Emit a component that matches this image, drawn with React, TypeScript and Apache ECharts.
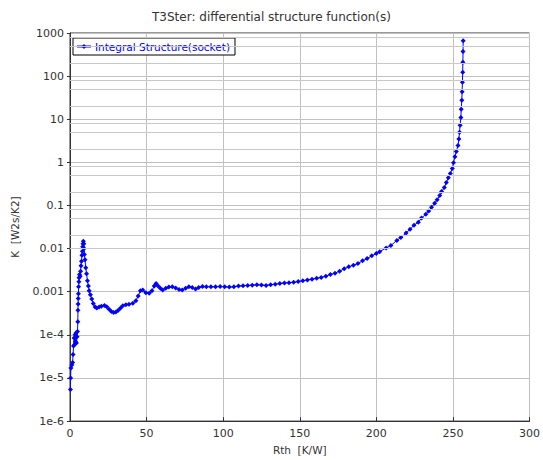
import React, { useEffect, useRef } from "react";
import * as echarts from "echarts";

const TITLE = "T3Ster: differential structure function(s)";
const SERIES_NAME = "Integral Structure(socket)";
const X_TICKS = [0, 50, 100, 150, 200, 250, 300];
const Y_LABELS: Record<string, string> = {
  "1000": "1000", "100": "100", "10": "10", "1": "1", "0.1": "0.1",
  "0.01": "0.01", "0.001": "0.001", "0.0001": "1e-4", "0.00001": "1e-5", "0.000001": "1e-6",
};
// minor horizontal grid lines (2, 5, 8 multiples of every decade)
const MINOR_GRID = [
  2e-6, 5e-6, 8e-6, 2e-5, 5e-5, 8e-5, 2e-4, 5e-4, 8e-4, 2e-3, 5e-3, 8e-3,
  2e-2, 5e-2, 8e-2, 0.2, 0.5, 0.8, 2, 5, 8, 20, 50, 80, 200, 500, 800,
];

const RTH = [
  0.3, 0.4, 0.6, 1.2, 1.7, 2.0, 2.3, 2.7, 3.0, 3.3, 3.6, 3.9, 4.2, 4.6, 4.9, 5.1, 5.2, 5.3, 5.4, 5.5,
  5.6, 5.8, 5.9, 6.2, 6.6, 6.9, 7.2, 7.5, 7.8, 8.1, 8.3, 8.5, 8.7, 9.0, 9.2, 9.4, 9.8, 10.3, 10.8, 11.4,
  12.0, 12.5, 13.3, 14.2, 15.2, 16.4, 17.5, 19, 20.5, 22.5, 24, 25.5, 27, 28.5, 30, 31.5, 33, 34.5, 36.5, 38.5,
  41, 43, 44.5, 46, 47.5, 49.5, 51.7, 53.5, 55, 56.2, 57.5, 59, 60.5, 62.5, 64.5, 66.8, 69, 71.2, 73.3, 75.5,
  77.6, 79.8, 82, 84, 86.5, 89, 92, 95, 98, 101, 104, 107, 110, 113, 116, 119, 122, 125, 128, 131,
  134, 137, 140, 143, 146, 149, 152, 155, 158, 161, 164, 167, 170, 173, 176, 179, 182, 185, 188, 191,
  194, 197, 200, 202.2, 206.4, 209.5, 213.4, 216, 219.4, 222, 224.6, 227.4, 229.5, 232.3, 234.2, 236, 238.1, 239.7, 241.4, 242.6,
  244.4, 245.7, 247, 248.3, 249.6, 250.4, 251.3, 252.2, 253.3, 253.9, 254.3, 254.7, 255.2, 255.4, 255.8, 256, 256.2, 256.4, 256.5, 256.6,
];
const K = [
  5.4e-6, 1.0e-5, 1.7e-5, 2.0e-5, 2.3e-5, 3.5e-5, 5.5e-5, 8.5e-5, 6e-5, 1.0e-4, 7e-5, 1.1e-4, 6.5e-5, 9e-5, 1.2e-4, 2e-4, 3.7e-4, 5.2e-4, 7e-4, 9e-4,
  1.3e-3, 1.7e-3, 2.1e-3, 2.5e-3, 2.3e-3, 3e-3, 4e-3, 5.1e-3, 7e-3, 8.7e-3, 1.1e-2, 1.3e-2, 1.48e-2, 1.3e-2, 1.0e-2, 7.3e-3, 5.5e-3, 3.6e-3, 2.6e-3, 1.8e-3,
  1.35e-3, 1.05e-3, 8.5e-4, 6.8e-4, 5.3e-4, 4.4e-4, 4.2e-4, 4.4e-4, 4.6e-4, 4.8e-4, 4.5e-4, 3.9e-4, 3.5e-4, 3.3e-4, 3.4e-4, 3.7e-4, 4.2e-4, 4.7e-4, 5e-4, 5.1e-4,
  5.4e-4, 6.2e-4, 8e-4, 1.05e-3, 1.1e-3, 9.5e-4, 9.2e-4, 1.05e-3, 1.35e-3, 1.55e-3, 1.35e-3, 1.2e-3, 1.1e-3, 1.2e-3, 1.28e-3, 1.3e-3, 1.22e-3, 1.12e-3, 1.1e-3, 1.2e-3,
  1.3e-3, 1.25e-3, 1.15e-3, 1.25e-3, 1.32e-3, 1.3e-3, 1.3e-3, 1.3e-3, 1.32e-3, 1.3e-3, 1.28e-3, 1.3e-3, 1.35e-3, 1.38e-3, 1.4e-3, 1.42e-3, 1.45e-3, 1.43e-3, 1.4e-3, 1.45e-3,
  1.5e-3, 1.55e-3, 1.6e-3, 1.62e-3, 1.65e-3, 1.72e-3, 1.8e-3, 1.88e-3, 1.95e-3, 2.05e-3, 2.15e-3, 2.3e-3, 2.5e-3, 2.7e-3, 3.0e-3, 3.4e-3, 3.8e-3, 4.1e-3, 4.5e-3, 5.2e-3,
  5.9e-3, 6.8e-3, 7.7e-3, 8.5e-3, 1.04e-2, 1.18e-2, 1.55e-2, 1.8e-2, 2.3e-2, 2.8e-2, 3.5e-2, 4.1e-2, 5.1e-2, 6.3e-2, 7.5e-2, 9.1e-2, 0.112, 0.135, 0.17, 0.21,
  0.26, 0.34, 0.44, 0.55, 0.72, 0.98, 1.35, 1.78, 2.45, 3.5, 5, 7.3, 11, 17, 27.5, 43.5, 72, 123, 209, 372,
];
const K_TOP = [665];
const RTH_TOP = [256.7];

if (typeof document !== "undefined") {
  document.body.style.margin = "0";
  document.body.style.overflow = "hidden";
}

export default function App() {
  const ref = useRef<HTMLDivElement>(null);
  useEffect(() => {
    if (!ref.current) return;
    const chart = echarts.init(ref.current, undefined, { renderer: "svg" });
    const pts: number[][] = RTH.map((x, i) => [x, K[i]]);
    RTH_TOP.forEach((x, i) => pts.push([x, K_TOP[i]]));
    const font = "DejaVu Sans";
    const textColor = "#333";
    const blue = "#0000ff";
    chart.setOption({
      animation: false,
      title: {
        text: TITLE,
        left: "center",
        top: 6,
        textStyle: { fontFamily: font, fontSize: 12, fontWeight: "normal", color: textColor },
      },
      legend: {
        data: [SERIES_NAME],
        left: 73,
        top: 38,
        orient: "vertical",
        backgroundColor: "#fff",
        borderColor: "#000",
        borderWidth: 1,
        borderRadius: 0,
        padding: [3, 5, 3, 3],
        itemWidth: 14,
        itemHeight: 6,
        itemGap: 0,
        textStyle: { fontFamily: font, fontSize: 10.5, color: blue, padding: [0, 0, 0, -1] },
      },
      grid: {
        left: 70,
        right: 9,
        top: 33,
        bottom: 35,
        show: true,
        borderColor: "#333",
        borderWidth: 1,
        backgroundColor: "transparent",
      },
      xAxis: {
        type: "value",
        min: X_TICKS[0],
        max: X_TICKS[X_TICKS.length - 1],
        interval: 50,
        name: "Rth  [K/W]",
        nameLocation: "middle",
        nameGap: 20,
        nameTextStyle: { fontFamily: font, fontSize: 10.5, color: textColor },
        axisLine: { lineStyle: { color: "#333" } },
        axisTick: { inside: true, length: 4, lineStyle: { color: "#333" } },
        axisLabel: { fontFamily: font, fontSize: 11, color: textColor, margin: 7 },
        splitLine: { show: true, lineStyle: { color: "#c0c0c0", width: 1 } },
      },
      yAxis: {
        type: "log",
        logBase: 10,
        min: 1e-6,
        max: 1000,
        name: "K  [W2s/K2]",
        nameLocation: "middle",
        nameGap: 50,
        nameTextStyle: { fontFamily: font, fontSize: 10.5, color: textColor },
        axisLine: { show: true, lineStyle: { color: "#333" } },
        axisTick: { show: true, length: 3, lineStyle: { color: "#333" } },
        axisLabel: {
          fontFamily: font,
          fontSize: 11,
          color: textColor,
          margin: 6,
          formatter: (v: number) => {
            const e = Math.round(Math.log10(v));
            const key = String(Number(Math.pow(10, e).toPrecision(1)));
            return Y_LABELS[key] ?? (e < -3 ? "1e" + e : String(v));
          },
        },
        splitLine: { show: true, lineStyle: { color: "#c0c0c0", width: 1 } },
      },
      series: [
        {
          name: "grid",
          type: "line",
          data: [],
          z: 1,
          silent: true,
          markLine: {
            silent: true,
            symbol: ["none", "none"],
            label: { show: false },
            lineStyle: { color: "#c8c8c8", type: "solid", width: 1 },
            emphasis: { disabled: true },
            data: MINOR_GRID.map((v) => ({ yAxis: v })),
          },
        },
        {
          name: SERIES_NAME,
          type: "line",
          data: pts,
          z: 3,
          symbol: "diamond",
          symbolSize: 5,
          showAllSymbol: true,
          color: blue,
          itemStyle: { color: blue },
          lineStyle: { color: blue, width: 1 },
        },
      ],
    });
    return () => chart.dispose();
  }, []);
  return <div ref={ref} style={{ width: 543, height: 460 }} />;
}
